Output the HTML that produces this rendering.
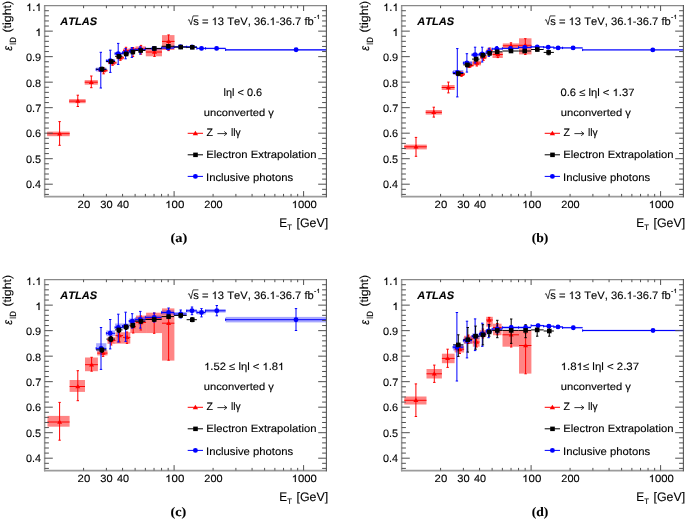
<!DOCTYPE html><html><head><meta charset="utf-8"><style>html,body{margin:0;padding:0;background:#fff;width:685px;height:519px;overflow:hidden}svg{display:block;will-change:transform}text{font-kerning:none;stroke:#000;stroke-width:0.12px}</style></head><body>
<svg width="685" height="519" viewBox="0 0 685 519" font-family='"Liberation Sans", sans-serif' font-size="11" fill="#000" text-rendering="geometricPrecision">
<rect width="685" height="519" fill="#fff"/>
<g transform="translate(0 0)">
<rect x="47.1" y="131.6" width="22.6" height="4.6" fill="#ff0000" fill-opacity="0.48"/>
<rect x="69.1" y="99.1" width="16.5" height="4.1" fill="#ff0000" fill-opacity="0.48"/>
<rect x="84.7" y="80.1" width="13.1" height="4.6" fill="#ff0000" fill-opacity="0.48"/>
<rect x="98.5" y="69.2" width="9" height="2.8" fill="#ff0000" fill-opacity="0.48"/>
<rect x="108" y="61.4" width="8.5" height="2.8" fill="#ff0000" fill-opacity="0.48"/>
<rect x="116.5" y="56.4" width="7.5" height="2.8" fill="#ff0000" fill-opacity="0.48"/>
<rect x="123" y="48.6" width="6.6" height="3.8" fill="#ff0000" fill-opacity="0.48"/>
<rect x="129.6" y="47.8" width="5.9" height="3.6" fill="#ff0000" fill-opacity="0.48"/>
<rect x="135.5" y="46.4" width="10.3" height="4.5" fill="#ff0000" fill-opacity="0.48"/>
<rect x="145.8" y="48.9" width="16.2" height="7.4" fill="#ff0000" fill-opacity="0.48"/>
<rect x="162" y="35.1" width="12.5" height="14.9" fill="#ff0000" fill-opacity="0.48"/>
<rect x="96.13" y="67.5" width="10.25" height="4" fill="#0000ff" fill-opacity="0.34"/>
<rect x="106.39" y="59" width="8.67" height="3.6" fill="#0000ff" fill-opacity="0.34"/>
<rect x="115.06" y="52" width="7.51" height="3.2" fill="#0000ff" fill-opacity="0.34"/>
<rect x="122.57" y="51.2" width="6.62" height="2.8" fill="#0000ff" fill-opacity="0.34"/>
<rect x="129.19" y="49.8" width="5.93" height="2.4" fill="#0000ff" fill-opacity="0.34"/>
<rect x="135.12" y="48.4" width="10.25" height="2.4" fill="#0000ff" fill-opacity="0.34"/>
<rect x="145.37" y="47.6" width="16.18" height="2" fill="#0000ff" fill-opacity="0.34"/>
<rect x="161.55" y="47" width="12.55" height="2" fill="#0000ff" fill-opacity="0.34"/>
<rect x="174.1" y="46" width="12.55" height="1.6" fill="#0000ff" fill-opacity="0.34"/>
<rect x="186.65" y="46.1" width="10.25" height="1.6" fill="#0000ff" fill-opacity="0.34"/>
<rect x="196.9" y="47.6" width="8.67" height="1.6" fill="#0000ff" fill-opacity="0.34"/>
<rect x="205.57" y="47.6" width="20.06" height="1.6" fill="#0000ff" fill-opacity="0.34"/>
<rect x="225.63" y="49" width="100.77" height="2" fill="#0000ff" fill-opacity="0.34"/>
<path d="M47.1 133.7H69.7M59.6 121.6V145.3M58.4 121.6h2.4M58.4 145.3h2.4M69.1 101.1H85.6M77.8 95.2V106.5M76.6 95.2h2.4M76.6 106.5h2.4M84.7 82.2H97.8M91.3 76V87.7M90.1 76h2.4M90.1 87.7h2.4M98.5 70.6H107.5M103.6 68V73.8M102.4 68h2.4M102.4 73.8h2.4M108 62.8H116.5M112.6 60.5V65.3M111.4 60.5h2.4M111.4 65.3h2.4M116.5 57.8H124M120.4 55.6V60.3M119.2 55.6h2.4M119.2 60.3h2.4M123 50.5H129.6M126 47.3V53M124.8 47.3h2.4M124.8 53h2.4M129.6 49.8H135.5M133 47.5V56.5M131.8 47.5h2.4M131.8 56.5h2.4M135.5 49H145.8M141 45.4V54.2M139.8 45.4h2.4M139.8 54.2h2.4M145.8 52H162M154.5 46.7V56.5M153.3 46.7h2.4M153.3 56.5h2.4M162 41.4H174.5M168.6 34.9V50.6M167.4 34.9h2.4M167.4 50.6h2.4" stroke="#ff0000" stroke-width="1" fill="none"/>
<path d="M59.6 131.2l2.5 4.2h-5z" fill="#ff0000"/>
<path d="M77.8 98.6l2.5 4.2h-5z" fill="#ff0000"/>
<path d="M91.3 79.7l2.5 4.2h-5z" fill="#ff0000"/>
<path d="M103.6 68.1l2.5 4.2h-5z" fill="#ff0000"/>
<path d="M112.6 60.3l2.5 4.2h-5z" fill="#ff0000"/>
<path d="M120.4 55.3l2.5 4.2h-5z" fill="#ff0000"/>
<path d="M126 48l2.5 4.2h-5z" fill="#ff0000"/>
<path d="M133 47.3l2.5 4.2h-5z" fill="#ff0000"/>
<path d="M141 46.5l2.5 4.2h-5z" fill="#ff0000"/>
<path d="M154.5 49.5l2.5 4.2h-5z" fill="#ff0000"/>
<path d="M168.6 38.9l2.5 4.2h-5z" fill="#ff0000"/>
<path d="M96.13 69.5H106.39M100.8 52.3V88M99.6 52.3h2.4M99.6 88h2.4M96.13 68.3v2.4M106.39 60.8H115.06M110.3 50.2V72.4M109.1 50.2h2.4M109.1 72.4h2.4M106.39 59.6v2.4M115.06 53.6H122.57M118.2 43.4V64.4M117 43.4h2.4M117 64.4h2.4M115.06 52.4v2.4M122.57 52.6H129.19M125.6 48.6V58.8M124.4 48.6h2.4M124.4 58.8h2.4M122.57 51.4v2.4M129.19 51H135.12M131.9 47.6V57.4M130.7 47.6h2.4M130.7 57.4h2.4M129.19 49.8v2.4M135.12 49.6H145.37M140.2 46.8V54M139 46.8h2.4M139 54h2.4M135.12 48.4v2.4M145.37 48.6H161.55M153.8 47V50.5M152.6 47h2.4M152.6 50.5h2.4M145.37 47.4v2.4M161.55 48H174.1M168 46.5V49.5M166.8 46.5h2.4M166.8 49.5h2.4M161.55 46.8v2.4M174.1 46.8H186.65M180.5 45.8V47.8M179.3 45.8h2.4M179.3 47.8h2.4M174.1 45.6v2.4M186.65 46.9H196.9M192 45.9V47.9M190.8 45.9h2.4M190.8 47.9h2.4M186.65 45.7v2.4M196.9 48.4H205.57M201.5 47.2V49.6M200.3 47.2h2.4M200.3 49.6h2.4M196.9 47.2v2.4M205.57 48.4H225.63M216.6 47.2V49.6M215.4 47.2h2.4M215.4 49.6h2.4M205.57 47.2v2.4M225.63 49.8H326.4M296.1 48.8V50.8M294.9 48.8h2.4M294.9 50.8h2.4M225.63 48.6v2.4" stroke="#0000ff" stroke-width="1" fill="none"/>
<path d="M96.13 69.2H106.39M101.9 67.2V71.2M100.7 67.2h2.4M100.7 71.2h2.4M106.39 61.5H115.06M111.2 59.5V63.5M110 59.5h2.4M110 63.5h2.4M115.06 56.3H122.57M118.9 54.3V58.3M117.7 54.3h2.4M117.7 58.3h2.4M122.57 53.9H129.19M126.2 52V55.8M125 52h2.4M125 55.8h2.4M129.19 52H135.12M132.8 50.2V53.8M131.6 50.2h2.4M131.6 53.8h2.4M135.12 50.5H145.37M140.7 48.8V52.2M139.5 48.8h2.4M139.5 52.2h2.4M145.37 48.5H161.55M154.4 47V50M153.2 47h2.4M153.2 50h2.4M161.55 46.3H174.1M168.4 44.8V47.8M167.2 44.8h2.4M167.2 47.8h2.4M174.1 47.1H186.65M180.7 45.8V48.4M179.5 45.8h2.4M179.5 48.4h2.4M186.65 47.3H196.9M192.3 46V48.6M191.1 46h2.4M191.1 48.6h2.4" stroke="#000000" stroke-width="1" fill="none"/>
<circle cx="100.8" cy="69.5" r="2.45" fill="#0000ff"/>
<circle cx="110.3" cy="60.8" r="2.45" fill="#0000ff"/>
<circle cx="118.2" cy="53.6" r="2.45" fill="#0000ff"/>
<circle cx="125.6" cy="52.6" r="2.45" fill="#0000ff"/>
<circle cx="131.9" cy="51" r="2.45" fill="#0000ff"/>
<circle cx="140.2" cy="49.6" r="2.45" fill="#0000ff"/>
<circle cx="153.8" cy="48.6" r="2.45" fill="#0000ff"/>
<circle cx="168" cy="48" r="2.45" fill="#0000ff"/>
<circle cx="180.5" cy="46.8" r="2.45" fill="#0000ff"/>
<circle cx="192" cy="46.9" r="2.45" fill="#0000ff"/>
<circle cx="201.5" cy="48.4" r="2.45" fill="#0000ff"/>
<circle cx="216.6" cy="48.4" r="2.45" fill="#0000ff"/>
<circle cx="296.1" cy="49.8" r="2.45" fill="#0000ff"/>
<rect x="99.6" y="66.9" width="4.6" height="4.6" fill="#000000"/>
<rect x="108.9" y="59.2" width="4.6" height="4.6" fill="#000000"/>
<rect x="116.6" y="54" width="4.6" height="4.6" fill="#000000"/>
<rect x="123.9" y="51.6" width="4.6" height="4.6" fill="#000000"/>
<rect x="130.5" y="49.7" width="4.6" height="4.6" fill="#000000"/>
<rect x="138.4" y="48.2" width="4.6" height="4.6" fill="#000000"/>
<rect x="152.1" y="46.2" width="4.6" height="4.6" fill="#000000"/>
<rect x="166.1" y="44" width="4.6" height="4.6" fill="#000000"/>
<rect x="178.4" y="44.8" width="4.6" height="4.6" fill="#000000"/>
<rect x="190" y="45" width="4.6" height="4.6" fill="#000000"/>
<path d="M44.65 5V197.3" stroke="#999" stroke-width="1.5" fill="none"/>
<path d="M44 5.6H326.9" stroke="#888" stroke-width="1.3" fill="none"/>
<path d="M44 196.55H326.9" stroke="#9c9c9c" stroke-width="1.7" fill="none"/>
<path d="M326.4 5V197.3" stroke="#555" stroke-width="1.1" fill="none"/>
<path d="M44.6 194.4h4.3M326.4 194.4h-4.3M44.6 189.3h4.3M326.4 189.3h-4.3M44.6 184.2h8.2M326.4 184.2h-8.2M44.6 179.1h4.3M326.4 179.1h-4.3M44.6 174h4.3M326.4 174h-4.3M44.6 168.89h4.3M326.4 168.89h-4.3M44.6 163.79h4.3M326.4 163.79h-4.3M44.6 158.69h8.2M326.4 158.69h-8.2M44.6 153.59h4.3M326.4 153.59h-4.3M44.6 148.49h4.3M326.4 148.49h-4.3M44.6 143.38h4.3M326.4 143.38h-4.3M44.6 138.28h4.3M326.4 138.28h-4.3M44.6 133.18h8.2M326.4 133.18h-8.2M44.6 128.08h4.3M326.4 128.08h-4.3M44.6 122.98h4.3M326.4 122.98h-4.3M44.6 117.87h4.3M326.4 117.87h-4.3M44.6 112.77h4.3M326.4 112.77h-4.3M44.6 107.67h8.2M326.4 107.67h-8.2M44.6 102.57h4.3M326.4 102.57h-4.3M44.6 97.47h4.3M326.4 97.47h-4.3M44.6 92.36h4.3M326.4 92.36h-4.3M44.6 87.26h4.3M326.4 87.26h-4.3M44.6 82.16h8.2M326.4 82.16h-8.2M44.6 77.06h4.3M326.4 77.06h-4.3M44.6 71.96h4.3M326.4 71.96h-4.3M44.6 66.85h4.3M326.4 66.85h-4.3M44.6 61.75h4.3M326.4 61.75h-4.3M44.6 56.65h8.2M326.4 56.65h-8.2M44.6 51.55h4.3M326.4 51.55h-4.3M44.6 46.45h4.3M326.4 46.45h-4.3M44.6 41.34h4.3M326.4 41.34h-4.3M44.6 36.24h4.3M326.4 36.24h-4.3M44.6 31.14h8.2M326.4 31.14h-8.2M44.6 26.04h4.3M326.4 26.04h-4.3M44.6 20.94h4.3M326.4 20.94h-4.3M44.6 15.83h4.3M326.4 15.83h-4.3M44.6 10.73h4.3M326.4 10.73h-4.3M83.58 196.5v-2.6M83.58 5.6v2.6M106.39 196.5v-2.6M106.39 5.6v2.6M122.57 196.5v-2.6M122.57 5.6v2.6M135.12 196.5v-2.6M135.12 5.6v2.6M145.37 196.5v-2.6M145.37 5.6v2.6M154.04 196.5v-2.6M154.04 5.6v2.6M161.55 196.5v-2.6M161.55 5.6v2.6M168.17 196.5v-2.6M168.17 5.6v2.6M174.1 196.5v-5.4M174.1 5.6v5.4M213.08 196.5v-2.6M213.08 5.6v2.6M235.89 196.5v-2.6M235.89 5.6v2.6M252.07 196.5v-2.6M252.07 5.6v2.6M264.62 196.5v-2.6M264.62 5.6v2.6M274.87 196.5v-2.6M274.87 5.6v2.6M283.54 196.5v-2.6M283.54 5.6v2.6M291.05 196.5v-2.6M291.05 5.6v2.6M297.67 196.5v-2.6M297.67 5.6v2.6M303.6 196.5v-5.4M303.6 5.6v5.4" stroke="#505050" stroke-width="1" fill="none"/>
<text x="26.03" y="188" font-size="10.8" textLength="14.99" lengthAdjust="spacingAndGlyphs">0.4</text>
<text x="26.02" y="163" font-size="10.8" textLength="15.13" lengthAdjust="spacingAndGlyphs">0.5</text>
<text x="26.02" y="137" font-size="10.8" textLength="15.15" lengthAdjust="spacingAndGlyphs">0.6</text>
<text x="26.02" y="112" font-size="10.8" textLength="15.23" lengthAdjust="spacingAndGlyphs">0.7</text>
<text x="26.02" y="87" font-size="10.8" textLength="15.15" lengthAdjust="spacingAndGlyphs">0.8</text>
<text x="26.02" y="61" font-size="10.8" textLength="15.19" lengthAdjust="spacingAndGlyphs">0.9</text>
<text x="35.2" y="36" font-size="10.8" textLength="6.66" lengthAdjust="spacingAndGlyphs"> </text><path transform="matrix(0.005843 0 0 -0.005273 35.2 36)" d="M745 0H560V1060C480 990 330 920 223 890V1050C390 1100 520 1230 585 1409H745Z" stroke="#000" stroke-width="0.12" vector-effect="non-scaling-stroke"/>
<text x="26.13" y="11" font-size="10.8" textLength="15.58" lengthAdjust="spacingAndGlyphs"> . </text><path transform="matrix(0.005471 0 0 -0.005273 26.13 11)" d="M745 0H560V1060C480 990 330 920 223 890V1050C390 1100 520 1230 585 1409H745Z" stroke="#000" stroke-width="0.12" vector-effect="non-scaling-stroke"/><path transform="matrix(0.005471 0 0 -0.005273 35.47 11)" d="M745 0H560V1060C480 990 330 920 223 890V1050C390 1100 520 1230 585 1409H745Z" stroke="#000" stroke-width="0.12" vector-effect="non-scaling-stroke"/>
<text x="77.58" y="208" font-size="10.5" textLength="12.61" lengthAdjust="spacingAndGlyphs">20</text>
<text x="100.23" y="208" font-size="10.5" textLength="12.36" lengthAdjust="spacingAndGlyphs">30</text>
<text x="117" y="208" font-size="10.5" textLength="12.07" lengthAdjust="spacingAndGlyphs">40</text>
<text x="165.2" y="208" font-size="10.5" textLength="19.2" lengthAdjust="spacingAndGlyphs"> 00</text><path transform="matrix(0.005620 0 0 -0.005127 165.2 208)" d="M745 0H560V1060C480 990 330 920 223 890V1050C390 1100 520 1230 585 1409H745Z" stroke="#000" stroke-width="0.12" vector-effect="non-scaling-stroke"/>
<text x="204.3" y="208" font-size="10.5" textLength="18.28" lengthAdjust="spacingAndGlyphs">200</text>
<text x="291.72" y="208" font-size="10.5" textLength="25.17" lengthAdjust="spacingAndGlyphs"> 000</text><path transform="matrix(0.005526 0 0 -0.005127 291.72 208)" d="M745 0H560V1060C480 990 330 920 223 890V1050C390 1100 520 1230 585 1409H745Z" stroke="#000" stroke-width="0.12" vector-effect="non-scaling-stroke"/>
<text x="279.23" y="227" font-size="12.5" textLength="7.88" lengthAdjust="spacingAndGlyphs">E</text>
<text x="287.28" y="230" font-size="8" textLength="4.75" lengthAdjust="spacingAndGlyphs">T</text>
<text x="296.47" y="227" font-size="12.3" textLength="31.67" lengthAdjust="spacingAndGlyphs">[GeV]</text>
<g transform="translate(11.05 51) rotate(-90)"><text x="0.28" y="0.5" font-size="12.5" textLength="4.88" lengthAdjust="spacingAndGlyphs" font-style="italic">ε</text><text x="6.12" y="4.7" font-size="9" textLength="7.91" lengthAdjust="spacingAndGlyphs">ID</text><text x="18.48" y="0" font-size="11.6" textLength="31.63" lengthAdjust="spacingAndGlyphs">(tight)</text></g>
<text x="60.23" y="25" font-size="11" textLength="36.79" lengthAdjust="spacingAndGlyphs" font-weight="bold" font-style="italic">ATLAS</text>
<path d="M187.9 20.3l1.2-.7 1.9 5.1 2.1-8.8h5.3" stroke="#000" stroke-width="0.75" fill="none"/>
<text x="193.24" y="25" font-size="10.9" textLength="120.58" lengthAdjust="spacingAndGlyphs">s =  3 TeV, 36. -36.7 fb</text><path transform="matrix(0.005474 0 0 -0.005322 211.62 25)" d="M745 0H560V1060C480 990 330 920 223 890V1050C390 1100 520 1230 585 1409H745Z" stroke="#000" stroke-width="0.12" vector-effect="non-scaling-stroke"/><path transform="matrix(0.005474 0 0 -0.005322 269.57 25)" d="M745 0H560V1060C480 990 330 920 223 890V1050C390 1100 520 1230 585 1409H745Z" stroke="#000" stroke-width="0.12" vector-effect="non-scaling-stroke"/>
<text x="313.94" y="19" font-size="6" textLength="6.27" lengthAdjust="spacingAndGlyphs">- </text><path transform="matrix(0.003443 0 0 -0.002930 316.28 19)" d="M745 0H560V1060C480 990 330 920 223 890V1050C390 1100 520 1230 585 1409H745Z" stroke="#000" stroke-width="0.12" vector-effect="non-scaling-stroke"/>
<text x="223.51" y="96" font-size="10.6" textLength="38.62" lengthAdjust="spacingAndGlyphs">lηl &lt; 0.6</text>
<text x="203.72" y="116" font-size="10.2" textLength="70.16" lengthAdjust="spacingAndGlyphs">unconverted γ</text>
<path d="M187.7 133.3H203" stroke="#ff0000" stroke-width="1"/>
<path d="M187.7 154.8H203" stroke="#000000" stroke-width="1"/>
<path d="M187.7 176.4H203" stroke="#0000ff" stroke-width="1"/>
<path d="M195.4 130.8l2.7 4.5h-5.4z" fill="#ff0000"/>
<rect x="193.2" y="152.6" width="4.6" height="4.5" fill="#000"/>
<circle cx="195.4" cy="176.4" r="2.45" fill="#0000ff"/>
<text x="206.41" y="136" font-size="10.8" textLength="6.47" lengthAdjust="spacingAndGlyphs">Z</text>
<path d="M217.4 133.6H226.8M224.2 131.5l2.7 2.1-2.7 2.1" stroke="#000" stroke-width="0.8" fill="none"/>
<text x="230.96" y="136" font-size="10.8" textLength="9.73" lengthAdjust="spacingAndGlyphs">llγ</text>
<text x="206.33" y="158" font-size="10.6" textLength="110.15" lengthAdjust="spacingAndGlyphs">Electron Extrapolation</text>
<text x="206.01" y="181" font-size="10.8" textLength="87.15" lengthAdjust="spacingAndGlyphs">Inclusive photons</text>
<text x="170.52" y="242" font-size="13" textLength="16.76" lengthAdjust="spacingAndGlyphs" font-weight="bold" font-family='"Liberation Serif", serif'>(a)</text>
</g>
<g transform="translate(357 0)">
<rect x="47.2" y="144.6" width="22.6" height="4.8" fill="#ff0000" fill-opacity="0.48"/>
<rect x="68.7" y="110" width="16.2" height="4.6" fill="#ff0000" fill-opacity="0.48"/>
<rect x="84.7" y="85" width="12.9" height="5" fill="#ff0000" fill-opacity="0.48"/>
<rect x="98.5" y="72.8" width="9.5" height="2.8" fill="#ff0000" fill-opacity="0.48"/>
<rect x="108" y="64.1" width="8.5" height="2.8" fill="#ff0000" fill-opacity="0.48"/>
<rect x="115.5" y="60.6" width="8.5" height="4.8" fill="#ff0000" fill-opacity="0.48"/>
<rect x="123" y="54.8" width="6.6" height="4.4" fill="#ff0000" fill-opacity="0.48"/>
<rect x="129.6" y="48.8" width="5.9" height="3.6" fill="#ff0000" fill-opacity="0.48"/>
<rect x="135.5" y="52.1" width="10.3" height="5.9" fill="#ff0000" fill-opacity="0.48"/>
<rect x="145.8" y="43.4" width="16.2" height="4.9" fill="#ff0000" fill-opacity="0.48"/>
<rect x="162" y="38.3" width="12.5" height="16.1" fill="#ff0000" fill-opacity="0.48"/>
<rect x="96.13" y="70" width="10.25" height="5" fill="#0000ff" fill-opacity="0.34"/>
<rect x="106.39" y="61" width="8.67" height="4" fill="#0000ff" fill-opacity="0.34"/>
<rect x="115.06" y="53" width="7.51" height="3.6" fill="#0000ff" fill-opacity="0.34"/>
<rect x="122.57" y="52.4" width="6.62" height="3.2" fill="#0000ff" fill-opacity="0.34"/>
<rect x="129.19" y="50.6" width="5.93" height="2.8" fill="#0000ff" fill-opacity="0.34"/>
<rect x="135.12" y="47.8" width="10.25" height="2.2" fill="#0000ff" fill-opacity="0.34"/>
<rect x="145.37" y="47.6" width="16.18" height="1.6" fill="#0000ff" fill-opacity="0.34"/>
<rect x="161.55" y="46.6" width="12.55" height="1.6" fill="#0000ff" fill-opacity="0.34"/>
<rect x="174.1" y="46.2" width="12.55" height="1.4" fill="#0000ff" fill-opacity="0.34"/>
<rect x="186.65" y="46.4" width="10.25" height="1.6" fill="#0000ff" fill-opacity="0.34"/>
<rect x="196.9" y="47.2" width="8.67" height="1.4" fill="#0000ff" fill-opacity="0.34"/>
<rect x="205.57" y="47.2" width="20.06" height="1.4" fill="#0000ff" fill-opacity="0.34"/>
<rect x="225.63" y="49.2" width="100.77" height="1.4" fill="#0000ff" fill-opacity="0.34"/>
<path d="M47.2 146.8H69.8M59 137.4V156.3M57.8 137.4h2.4M57.8 156.3h2.4M68.7 112.3H84.9M76.8 107.2V117.1M75.6 107.2h2.4M75.6 117.1h2.4M84.7 87.5H97.6M91.4 82.1V92.9M90.2 82.1h2.4M90.2 92.9h2.4M98.5 74.2H108M104.5 72V76.4M103.3 72h2.4M103.3 76.4h2.4M108 65.5H116.5M112.5 63.5V67.5M111.3 63.5h2.4M111.3 67.5h2.4M115.5 63H124M119.8 60V66M118.6 60h2.4M118.6 66h2.4M123 57H129.6M126.5 53.6V60.4M125.3 53.6h2.4M125.3 60.4h2.4M129.6 50.5H135.5M132.7 48V53.4M131.5 48h2.4M131.5 53.4h2.4M135.5 54.5H145.8M140.8 51.5V57.6M139.6 51.5h2.4M139.6 57.6h2.4M145.8 45.8H162M154 42.8V49.4M152.8 42.8h2.4M152.8 49.4h2.4M162 45.3H174.5M168.3 38.7V54.5M167.1 38.7h2.4M167.1 54.5h2.4" stroke="#ff0000" stroke-width="1" fill="none"/>
<path d="M59 144.3l2.5 4.2h-5z" fill="#ff0000"/>
<path d="M76.8 109.8l2.5 4.2h-5z" fill="#ff0000"/>
<path d="M91.4 85l2.5 4.2h-5z" fill="#ff0000"/>
<path d="M104.5 71.7l2.5 4.2h-5z" fill="#ff0000"/>
<path d="M112.5 63l2.5 4.2h-5z" fill="#ff0000"/>
<path d="M119.8 60.5l2.5 4.2h-5z" fill="#ff0000"/>
<path d="M126.5 54.5l2.5 4.2h-5z" fill="#ff0000"/>
<path d="M132.7 48l2.5 4.2h-5z" fill="#ff0000"/>
<path d="M140.8 52l2.5 4.2h-5z" fill="#ff0000"/>
<path d="M154 43.3l2.5 4.2h-5z" fill="#ff0000"/>
<path d="M168.3 42.8l2.5 4.2h-5z" fill="#ff0000"/>
<path d="M96.13 72.5H106.39M100.3 48.6V96.9M99.1 48.6h2.4M99.1 96.9h2.4M96.13 71.3v2.4M106.39 63H115.06M109.9 53.7V72.1M108.7 53.7h2.4M108.7 72.1h2.4M106.39 61.8v2.4M115.06 54.8H122.57M118.1 47.2V63M116.9 47.2h2.4M116.9 63h2.4M115.06 53.6v2.4M122.57 54H129.19M125.2 47.2V62M124 47.2h2.4M124 62h2.4M122.57 52.8v2.4M129.19 52H135.12M131.9 48.3V56.4M130.7 48.3h2.4M130.7 56.4h2.4M129.19 50.8v2.4M135.12 48.9H145.37M139.8 46.6V51.5M138.6 46.6h2.4M138.6 51.5h2.4M135.12 47.7v2.4M145.37 48.4H161.55M153.4 47V49.8M152.2 47h2.4M152.2 49.8h2.4M145.37 47.2v2.4M161.55 47.4H174.1M167.7 46V48.8M166.5 46h2.4M166.5 48.8h2.4M161.55 46.2v2.4M174.1 46.9H186.65M180.2 45.8V48M179 45.8h2.4M179 48h2.4M174.1 45.7v2.4M186.65 47.2H196.9M191.2 46V48.4M190 46h2.4M190 48.4h2.4M186.65 46v2.4M196.9 47.9H205.57M201.1 46.8V49M199.9 46.8h2.4M199.9 49h2.4M196.9 46.7v2.4M205.57 47.9H225.63M216.1 46.8V49M214.9 46.8h2.4M214.9 49h2.4M205.57 46.7v2.4M225.63 49.9H326.4M295.8 49V50.8M294.6 49h2.4M294.6 50.8h2.4M225.63 48.7v2.4" stroke="#0000ff" stroke-width="1" fill="none"/>
<path d="M96.13 73.5H106.39M101.3 71.3V75.7M100.1 71.3h2.4M100.1 75.7h2.4M106.39 64.9H115.06M110.4 62.9V66.9M109.2 62.9h2.4M109.2 66.9h2.4M115.06 59.1H122.57M119.1 57.1V61.1M117.9 57.1h2.4M117.9 61.1h2.4M122.57 55.2H129.19M125.8 53.4V57M124.6 53.4h2.4M124.6 57h2.4M129.19 53.3H135.12M132.6 51.5V55.1M131.4 51.5h2.4M131.4 55.1h2.4M135.12 51.8H145.37M140.2 50V53.6M139 50h2.4M139 53.6h2.4M145.37 51H161.55M154 49.5V52.5M152.8 49.5h2.4M152.8 52.5h2.4M161.55 51H174.1M167.7 49.5V52.5M166.5 49.5h2.4M166.5 52.5h2.4M174.1 49.5H186.65M180.3 48V51M179.1 48h2.4M179.1 51h2.4M186.65 52.4H196.9M191.6 50.4V54.8M190.4 50.4h2.4M190.4 54.8h2.4" stroke="#000000" stroke-width="1" fill="none"/>
<circle cx="100.3" cy="72.5" r="2.45" fill="#0000ff"/>
<circle cx="109.9" cy="63" r="2.45" fill="#0000ff"/>
<circle cx="118.1" cy="54.8" r="2.45" fill="#0000ff"/>
<circle cx="125.2" cy="54" r="2.45" fill="#0000ff"/>
<circle cx="131.9" cy="52" r="2.45" fill="#0000ff"/>
<circle cx="139.8" cy="48.9" r="2.45" fill="#0000ff"/>
<circle cx="153.4" cy="48.4" r="2.45" fill="#0000ff"/>
<circle cx="167.7" cy="47.4" r="2.45" fill="#0000ff"/>
<circle cx="180.2" cy="46.9" r="2.45" fill="#0000ff"/>
<circle cx="191.2" cy="47.2" r="2.45" fill="#0000ff"/>
<circle cx="201.1" cy="47.9" r="2.45" fill="#0000ff"/>
<circle cx="216.1" cy="47.9" r="2.45" fill="#0000ff"/>
<circle cx="295.8" cy="49.9" r="2.45" fill="#0000ff"/>
<rect x="99" y="71.2" width="4.6" height="4.6" fill="#000000"/>
<rect x="108.1" y="62.6" width="4.6" height="4.6" fill="#000000"/>
<rect x="116.8" y="56.8" width="4.6" height="4.6" fill="#000000"/>
<rect x="123.5" y="52.9" width="4.6" height="4.6" fill="#000000"/>
<rect x="130.3" y="51" width="4.6" height="4.6" fill="#000000"/>
<rect x="137.9" y="49.5" width="4.6" height="4.6" fill="#000000"/>
<rect x="151.7" y="48.7" width="4.6" height="4.6" fill="#000000"/>
<rect x="165.4" y="48.7" width="4.6" height="4.6" fill="#000000"/>
<rect x="178" y="47.2" width="4.6" height="4.6" fill="#000000"/>
<rect x="189.3" y="50.1" width="4.6" height="4.6" fill="#000000"/>
<path d="M44.65 5V197.3" stroke="#999" stroke-width="1.5" fill="none"/>
<path d="M44 5.6H326.9" stroke="#888" stroke-width="1.3" fill="none"/>
<path d="M44 196.55H326.9" stroke="#9c9c9c" stroke-width="1.7" fill="none"/>
<path d="M326.4 5V197.3" stroke="#555" stroke-width="1.1" fill="none"/>
<path d="M44.6 194.4h4.3M326.4 194.4h-4.3M44.6 189.3h4.3M326.4 189.3h-4.3M44.6 184.2h8.2M326.4 184.2h-8.2M44.6 179.1h4.3M326.4 179.1h-4.3M44.6 174h4.3M326.4 174h-4.3M44.6 168.89h4.3M326.4 168.89h-4.3M44.6 163.79h4.3M326.4 163.79h-4.3M44.6 158.69h8.2M326.4 158.69h-8.2M44.6 153.59h4.3M326.4 153.59h-4.3M44.6 148.49h4.3M326.4 148.49h-4.3M44.6 143.38h4.3M326.4 143.38h-4.3M44.6 138.28h4.3M326.4 138.28h-4.3M44.6 133.18h8.2M326.4 133.18h-8.2M44.6 128.08h4.3M326.4 128.08h-4.3M44.6 122.98h4.3M326.4 122.98h-4.3M44.6 117.87h4.3M326.4 117.87h-4.3M44.6 112.77h4.3M326.4 112.77h-4.3M44.6 107.67h8.2M326.4 107.67h-8.2M44.6 102.57h4.3M326.4 102.57h-4.3M44.6 97.47h4.3M326.4 97.47h-4.3M44.6 92.36h4.3M326.4 92.36h-4.3M44.6 87.26h4.3M326.4 87.26h-4.3M44.6 82.16h8.2M326.4 82.16h-8.2M44.6 77.06h4.3M326.4 77.06h-4.3M44.6 71.96h4.3M326.4 71.96h-4.3M44.6 66.85h4.3M326.4 66.85h-4.3M44.6 61.75h4.3M326.4 61.75h-4.3M44.6 56.65h8.2M326.4 56.65h-8.2M44.6 51.55h4.3M326.4 51.55h-4.3M44.6 46.45h4.3M326.4 46.45h-4.3M44.6 41.34h4.3M326.4 41.34h-4.3M44.6 36.24h4.3M326.4 36.24h-4.3M44.6 31.14h8.2M326.4 31.14h-8.2M44.6 26.04h4.3M326.4 26.04h-4.3M44.6 20.94h4.3M326.4 20.94h-4.3M44.6 15.83h4.3M326.4 15.83h-4.3M44.6 10.73h4.3M326.4 10.73h-4.3M83.58 196.5v-2.6M83.58 5.6v2.6M106.39 196.5v-2.6M106.39 5.6v2.6M122.57 196.5v-2.6M122.57 5.6v2.6M135.12 196.5v-2.6M135.12 5.6v2.6M145.37 196.5v-2.6M145.37 5.6v2.6M154.04 196.5v-2.6M154.04 5.6v2.6M161.55 196.5v-2.6M161.55 5.6v2.6M168.17 196.5v-2.6M168.17 5.6v2.6M174.1 196.5v-5.4M174.1 5.6v5.4M213.08 196.5v-2.6M213.08 5.6v2.6M235.89 196.5v-2.6M235.89 5.6v2.6M252.07 196.5v-2.6M252.07 5.6v2.6M264.62 196.5v-2.6M264.62 5.6v2.6M274.87 196.5v-2.6M274.87 5.6v2.6M283.54 196.5v-2.6M283.54 5.6v2.6M291.05 196.5v-2.6M291.05 5.6v2.6M297.67 196.5v-2.6M297.67 5.6v2.6M303.6 196.5v-5.4M303.6 5.6v5.4" stroke="#505050" stroke-width="1" fill="none"/>
<text x="26.03" y="188" font-size="10.8" textLength="14.99" lengthAdjust="spacingAndGlyphs">0.4</text>
<text x="26.02" y="163" font-size="10.8" textLength="15.13" lengthAdjust="spacingAndGlyphs">0.5</text>
<text x="26.02" y="137" font-size="10.8" textLength="15.15" lengthAdjust="spacingAndGlyphs">0.6</text>
<text x="26.02" y="112" font-size="10.8" textLength="15.23" lengthAdjust="spacingAndGlyphs">0.7</text>
<text x="26.02" y="87" font-size="10.8" textLength="15.15" lengthAdjust="spacingAndGlyphs">0.8</text>
<text x="26.02" y="61" font-size="10.8" textLength="15.19" lengthAdjust="spacingAndGlyphs">0.9</text>
<text x="35.2" y="36" font-size="10.8" textLength="6.66" lengthAdjust="spacingAndGlyphs"> </text><path transform="matrix(0.005843 0 0 -0.005273 35.2 36)" d="M745 0H560V1060C480 990 330 920 223 890V1050C390 1100 520 1230 585 1409H745Z" stroke="#000" stroke-width="0.12" vector-effect="non-scaling-stroke"/>
<text x="26.13" y="11" font-size="10.8" textLength="15.58" lengthAdjust="spacingAndGlyphs"> . </text><path transform="matrix(0.005471 0 0 -0.005273 26.13 11)" d="M745 0H560V1060C480 990 330 920 223 890V1050C390 1100 520 1230 585 1409H745Z" stroke="#000" stroke-width="0.12" vector-effect="non-scaling-stroke"/><path transform="matrix(0.005471 0 0 -0.005273 35.47 11)" d="M745 0H560V1060C480 990 330 920 223 890V1050C390 1100 520 1230 585 1409H745Z" stroke="#000" stroke-width="0.12" vector-effect="non-scaling-stroke"/>
<text x="77.58" y="208" font-size="10.5" textLength="12.61" lengthAdjust="spacingAndGlyphs">20</text>
<text x="100.23" y="208" font-size="10.5" textLength="12.36" lengthAdjust="spacingAndGlyphs">30</text>
<text x="117" y="208" font-size="10.5" textLength="12.07" lengthAdjust="spacingAndGlyphs">40</text>
<text x="165.2" y="208" font-size="10.5" textLength="19.2" lengthAdjust="spacingAndGlyphs"> 00</text><path transform="matrix(0.005620 0 0 -0.005127 165.2 208)" d="M745 0H560V1060C480 990 330 920 223 890V1050C390 1100 520 1230 585 1409H745Z" stroke="#000" stroke-width="0.12" vector-effect="non-scaling-stroke"/>
<text x="204.3" y="208" font-size="10.5" textLength="18.28" lengthAdjust="spacingAndGlyphs">200</text>
<text x="291.72" y="208" font-size="10.5" textLength="25.17" lengthAdjust="spacingAndGlyphs"> 000</text><path transform="matrix(0.005526 0 0 -0.005127 291.72 208)" d="M745 0H560V1060C480 990 330 920 223 890V1050C390 1100 520 1230 585 1409H745Z" stroke="#000" stroke-width="0.12" vector-effect="non-scaling-stroke"/>
<text x="279.23" y="227" font-size="12.5" textLength="7.88" lengthAdjust="spacingAndGlyphs">E</text>
<text x="287.28" y="230" font-size="8" textLength="4.75" lengthAdjust="spacingAndGlyphs">T</text>
<text x="296.47" y="227" font-size="12.3" textLength="31.67" lengthAdjust="spacingAndGlyphs">[GeV]</text>
<g transform="translate(11.05 51) rotate(-90)"><text x="0.28" y="0.5" font-size="12.5" textLength="4.88" lengthAdjust="spacingAndGlyphs" font-style="italic">ε</text><text x="6.12" y="4.7" font-size="9" textLength="7.91" lengthAdjust="spacingAndGlyphs">ID</text><text x="18.48" y="0" font-size="11.6" textLength="31.63" lengthAdjust="spacingAndGlyphs">(tight)</text></g>
<text x="60.23" y="25" font-size="11" textLength="36.79" lengthAdjust="spacingAndGlyphs" font-weight="bold" font-style="italic">ATLAS</text>
<path d="M187.9 20.3l1.2-.7 1.9 5.1 2.1-8.8h5.3" stroke="#000" stroke-width="0.75" fill="none"/>
<text x="193.24" y="25" font-size="10.9" textLength="120.58" lengthAdjust="spacingAndGlyphs">s =  3 TeV, 36. -36.7 fb</text><path transform="matrix(0.005474 0 0 -0.005322 211.62 25)" d="M745 0H560V1060C480 990 330 920 223 890V1050C390 1100 520 1230 585 1409H745Z" stroke="#000" stroke-width="0.12" vector-effect="non-scaling-stroke"/><path transform="matrix(0.005474 0 0 -0.005322 269.57 25)" d="M745 0H560V1060C480 990 330 920 223 890V1050C390 1100 520 1230 585 1409H745Z" stroke="#000" stroke-width="0.12" vector-effect="non-scaling-stroke"/>
<text x="313.94" y="19" font-size="6" textLength="6.27" lengthAdjust="spacingAndGlyphs">- </text><path transform="matrix(0.003443 0 0 -0.002930 316.28 19)" d="M745 0H560V1060C480 990 330 920 223 890V1050C390 1100 520 1230 585 1409H745Z" stroke="#000" stroke-width="0.12" vector-effect="non-scaling-stroke"/>
<text x="203.51" y="96" font-size="10.6" textLength="73.9" lengthAdjust="spacingAndGlyphs">0.6 ≤ lηl &lt;  .37</text><path transform="matrix(0.005483 0 0 -0.005176 255.56 96)" d="M745 0H560V1060C480 990 330 920 223 890V1050C390 1100 520 1230 585 1409H745Z" stroke="#000" stroke-width="0.12" vector-effect="non-scaling-stroke"/>
<text x="203.72" y="116" font-size="10.2" textLength="70.16" lengthAdjust="spacingAndGlyphs">unconverted γ</text>
<path d="M187.7 133.3H203" stroke="#ff0000" stroke-width="1"/>
<path d="M187.7 154.8H203" stroke="#000000" stroke-width="1"/>
<path d="M187.7 176.4H203" stroke="#0000ff" stroke-width="1"/>
<path d="M195.4 130.8l2.7 4.5h-5.4z" fill="#ff0000"/>
<rect x="193.2" y="152.6" width="4.6" height="4.5" fill="#000"/>
<circle cx="195.4" cy="176.4" r="2.45" fill="#0000ff"/>
<text x="206.41" y="136" font-size="10.8" textLength="6.47" lengthAdjust="spacingAndGlyphs">Z</text>
<path d="M217.4 133.6H226.8M224.2 131.5l2.7 2.1-2.7 2.1" stroke="#000" stroke-width="0.8" fill="none"/>
<text x="230.96" y="136" font-size="10.8" textLength="9.73" lengthAdjust="spacingAndGlyphs">llγ</text>
<text x="206.33" y="158" font-size="10.6" textLength="110.15" lengthAdjust="spacingAndGlyphs">Electron Extrapolation</text>
<text x="206.01" y="181" font-size="10.8" textLength="87.15" lengthAdjust="spacingAndGlyphs">Inclusive photons</text>
<text x="174.65" y="242" font-size="13" textLength="16.59" lengthAdjust="spacingAndGlyphs" font-weight="bold" font-family='"Liberation Serif", serif'>(b)</text>
</g>
<g transform="translate(0 274)">
<rect x="47.5" y="141.9" width="22.1" height="10.8" fill="#ff0000" fill-opacity="0.48"/>
<rect x="69.6" y="106" width="15.4" height="11.9" fill="#ff0000" fill-opacity="0.48"/>
<rect x="85" y="83.5" width="12.9" height="13.7" fill="#ff0000" fill-opacity="0.48"/>
<rect x="97.2" y="76.4" width="10.3" height="5" fill="#ff0000" fill-opacity="0.48"/>
<rect x="107.5" y="63.1" width="8" height="6.8" fill="#ff0000" fill-opacity="0.48"/>
<rect x="115.5" y="58.3" width="7.5" height="11.3" fill="#ff0000" fill-opacity="0.48"/>
<rect x="123" y="58.3" width="7.3" height="11.3" fill="#ff0000" fill-opacity="0.48"/>
<rect x="130.3" y="46.1" width="5.7" height="13" fill="#ff0000" fill-opacity="0.48"/>
<rect x="136" y="41.6" width="10.1" height="17.5" fill="#ff0000" fill-opacity="0.48"/>
<rect x="146.1" y="38.7" width="15.9" height="20.4" fill="#ff0000" fill-opacity="0.48"/>
<rect x="162" y="34.4" width="12.4" height="52.2" fill="#ff0000" fill-opacity="0.48"/>
<rect x="96.13" y="69.2" width="10.25" height="8" fill="#0000ff" fill-opacity="0.34"/>
<rect x="106.39" y="56.4" width="8.67" height="5.8" fill="#0000ff" fill-opacity="0.34"/>
<rect x="115.06" y="49.5" width="7.51" height="5.2" fill="#0000ff" fill-opacity="0.34"/>
<rect x="122.57" y="49.5" width="6.62" height="5.5" fill="#0000ff" fill-opacity="0.34"/>
<rect x="129.19" y="44.5" width="5.93" height="5.5" fill="#0000ff" fill-opacity="0.34"/>
<rect x="135.12" y="43" width="10.25" height="5" fill="#0000ff" fill-opacity="0.34"/>
<rect x="145.37" y="41.5" width="16.18" height="4" fill="#0000ff" fill-opacity="0.34"/>
<rect x="161.55" y="36.5" width="12.55" height="4" fill="#0000ff" fill-opacity="0.34"/>
<rect x="174.1" y="38" width="12.55" height="4" fill="#0000ff" fill-opacity="0.34"/>
<rect x="186.65" y="35.2" width="10.25" height="3.3" fill="#0000ff" fill-opacity="0.34"/>
<rect x="196.9" y="36.6" width="8.67" height="3.8" fill="#0000ff" fill-opacity="0.34"/>
<rect x="205.57" y="35" width="20.06" height="3.6" fill="#0000ff" fill-opacity="0.34"/>
<rect x="225.63" y="42.9" width="100.77" height="5.5" fill="#0000ff" fill-opacity="0.34"/>
<path d="M47.5 148H69.6M59.6 128.4V166.2M58.4 128.4h2.4M58.4 166.2h2.4M69.6 112.5H85M77.8 96.7V126.7M76.6 96.7h2.4M76.6 126.7h2.4M85 90.7H97.9M91.6 83.3V97.2M90.4 83.3h2.4M90.4 97.2h2.4M97.2 79.1H107.5M103.1 76V82.4M101.9 76h2.4M101.9 82.4h2.4M107.5 66.5H115.5M111.2 62V71M110 62h2.4M110 71h2.4M115.5 61.6H123M119.5 57V68M118.3 57h2.4M118.3 68h2.4M123 63.4H130.3M127 58V69.4M125.8 58h2.4M125.8 69.4h2.4M130.3 52.5H136M133.2 46V59M132 46h2.4M132 59h2.4M136 48.5H146.1M140.8 42V56M139.6 42h2.4M139.6 56h2.4M146.1 44.9H162M154.2 39.1V59.3M153 39.1h2.4M153 59.3h2.4M162 49.2H174.4M168.6 40.5V86.2M167.4 40.5h2.4M167.4 86.2h2.4" stroke="#ff0000" stroke-width="1" fill="none"/>
<path d="M59.6 145.5l2.5 4.2h-5z" fill="#ff0000"/>
<path d="M77.8 110l2.5 4.2h-5z" fill="#ff0000"/>
<path d="M91.6 88.2l2.5 4.2h-5z" fill="#ff0000"/>
<path d="M103.1 76.6l2.5 4.2h-5z" fill="#ff0000"/>
<path d="M111.2 64l2.5 4.2h-5z" fill="#ff0000"/>
<path d="M119.5 59.1l2.5 4.2h-5z" fill="#ff0000"/>
<path d="M127 60.9l2.5 4.2h-5z" fill="#ff0000"/>
<path d="M133.2 50l2.5 4.2h-5z" fill="#ff0000"/>
<path d="M140.8 46l2.5 4.2h-5z" fill="#ff0000"/>
<path d="M154.2 42.4l2.5 4.2h-5z" fill="#ff0000"/>
<path d="M168.6 46.7l2.5 4.2h-5z" fill="#ff0000"/>
<path d="M96.13 74.4H106.39M101 53.5V95.4M99.8 53.5h2.4M99.8 95.4h2.4M96.13 73.2v2.4M106.39 59.3H115.06M110.2 45.5V74.9M109 45.5h2.4M109 74.9h2.4M106.39 58.1v2.4M115.06 53.5H122.57M118.3 40.2V68M117.1 40.2h2.4M117.1 68h2.4M115.06 52.3v2.4M122.57 52.2H129.19M125.6 38.2V67.4M124.4 38.2h2.4M124.4 67.4h2.4M122.57 51v2.4M129.19 47.2H135.12M132.2 39.7V54.1M131 39.7h2.4M131 54.1h2.4M129.19 46v2.4M135.12 45.5H145.37M140.3 37.4V54.1M139.1 37.4h2.4M139.1 54.1h2.4M135.12 44.3v2.4M145.37 43.4H161.55M154.2 39V48M153 39h2.4M153 48h2.4M145.37 42.2v2.4M161.55 38.5H174.1M168.6 34V43M167.4 34h2.4M167.4 43h2.4M161.55 37.3v2.4M174.1 40H186.65M180.7 36V44M179.5 36h2.4M179.5 44h2.4M174.1 38.8v2.4M186.65 36.8H196.9M192 33V40.7M190.8 33h2.4M190.8 40.7h2.4M186.65 35.6v2.4M196.9 38.5H205.57M201.5 34.6V42.9M200.3 34.6h2.4M200.3 42.9h2.4M196.9 37.3v2.4M205.57 36.8H225.63M216.8 31.5V41.8M215.6 31.5h2.4M215.6 41.8h2.4M205.57 35.6v2.4M225.63 45.7H326.4M296 34.6V56.5M294.8 34.6h2.4M294.8 56.5h2.4M225.63 44.5v2.4" stroke="#0000ff" stroke-width="1" fill="none"/>
<path d="M96.13 75.8H106.39M101.8 73.3V78.3M100.6 73.3h2.4M100.6 78.3h2.4M106.39 65.1H115.06M110.8 62.6V67.6M109.6 62.6h2.4M109.6 67.6h2.4M115.06 55.9H122.57M118.9 53.4V58.4M117.7 53.4h2.4M117.7 58.4h2.4M122.57 53H129.19M126.1 50.5V55.5M124.9 50.5h2.4M124.9 55.5h2.4M129.19 51.2H135.12M132.8 49V53.4M131.6 49h2.4M131.6 53.4h2.4M135.12 47.2H145.37M140.9 45V49.4M139.7 45h2.4M139.7 49.4h2.4M145.37 45.5H161.55M154.2 43.5V47.5M153 43.5h2.4M153 47.5h2.4M161.55 42.6H174.1M168.6 40.6V44.6M167.4 40.6h2.4M167.4 44.6h2.4M174.1 41.4H186.65M180.7 39.4V43.4M179.5 39.4h2.4M179.5 43.4h2.4M186.65 45.7H196.9M192.3 43.7V47.7M191.1 43.7h2.4M191.1 47.7h2.4" stroke="#000000" stroke-width="1" fill="none"/>
<circle cx="101" cy="74.4" r="2.45" fill="#0000ff"/>
<circle cx="110.2" cy="59.3" r="2.45" fill="#0000ff"/>
<circle cx="118.3" cy="53.5" r="2.45" fill="#0000ff"/>
<circle cx="125.6" cy="52.2" r="2.45" fill="#0000ff"/>
<circle cx="132.2" cy="47.2" r="2.45" fill="#0000ff"/>
<circle cx="140.3" cy="45.5" r="2.45" fill="#0000ff"/>
<circle cx="154.2" cy="43.4" r="2.45" fill="#0000ff"/>
<circle cx="168.6" cy="38.5" r="2.45" fill="#0000ff"/>
<circle cx="180.7" cy="40" r="2.45" fill="#0000ff"/>
<circle cx="192" cy="36.8" r="2.45" fill="#0000ff"/>
<circle cx="201.5" cy="38.5" r="2.45" fill="#0000ff"/>
<circle cx="216.8" cy="36.8" r="2.45" fill="#0000ff"/>
<circle cx="296" cy="45.7" r="2.45" fill="#0000ff"/>
<rect x="99.5" y="73.5" width="4.6" height="4.6" fill="#000000"/>
<rect x="108.5" y="62.8" width="4.6" height="4.6" fill="#000000"/>
<rect x="116.6" y="53.6" width="4.6" height="4.6" fill="#000000"/>
<rect x="123.8" y="50.7" width="4.6" height="4.6" fill="#000000"/>
<rect x="130.5" y="48.9" width="4.6" height="4.6" fill="#000000"/>
<rect x="138.6" y="44.9" width="4.6" height="4.6" fill="#000000"/>
<rect x="151.9" y="43.2" width="4.6" height="4.6" fill="#000000"/>
<rect x="166.3" y="40.3" width="4.6" height="4.6" fill="#000000"/>
<rect x="178.4" y="39.1" width="4.6" height="4.6" fill="#000000"/>
<rect x="190" y="43.4" width="4.6" height="4.6" fill="#000000"/>
<path d="M44.65 5V197.3" stroke="#999" stroke-width="1.5" fill="none"/>
<path d="M44 5.6H326.9" stroke="#888" stroke-width="1.3" fill="none"/>
<path d="M44 196.55H326.9" stroke="#9c9c9c" stroke-width="1.7" fill="none"/>
<path d="M326.4 5V197.3" stroke="#555" stroke-width="1.1" fill="none"/>
<path d="M44.6 194.4h4.3M326.4 194.4h-4.3M44.6 189.3h4.3M326.4 189.3h-4.3M44.6 184.2h8.2M326.4 184.2h-8.2M44.6 179.1h4.3M326.4 179.1h-4.3M44.6 174h4.3M326.4 174h-4.3M44.6 168.89h4.3M326.4 168.89h-4.3M44.6 163.79h4.3M326.4 163.79h-4.3M44.6 158.69h8.2M326.4 158.69h-8.2M44.6 153.59h4.3M326.4 153.59h-4.3M44.6 148.49h4.3M326.4 148.49h-4.3M44.6 143.38h4.3M326.4 143.38h-4.3M44.6 138.28h4.3M326.4 138.28h-4.3M44.6 133.18h8.2M326.4 133.18h-8.2M44.6 128.08h4.3M326.4 128.08h-4.3M44.6 122.98h4.3M326.4 122.98h-4.3M44.6 117.87h4.3M326.4 117.87h-4.3M44.6 112.77h4.3M326.4 112.77h-4.3M44.6 107.67h8.2M326.4 107.67h-8.2M44.6 102.57h4.3M326.4 102.57h-4.3M44.6 97.47h4.3M326.4 97.47h-4.3M44.6 92.36h4.3M326.4 92.36h-4.3M44.6 87.26h4.3M326.4 87.26h-4.3M44.6 82.16h8.2M326.4 82.16h-8.2M44.6 77.06h4.3M326.4 77.06h-4.3M44.6 71.96h4.3M326.4 71.96h-4.3M44.6 66.85h4.3M326.4 66.85h-4.3M44.6 61.75h4.3M326.4 61.75h-4.3M44.6 56.65h8.2M326.4 56.65h-8.2M44.6 51.55h4.3M326.4 51.55h-4.3M44.6 46.45h4.3M326.4 46.45h-4.3M44.6 41.34h4.3M326.4 41.34h-4.3M44.6 36.24h4.3M326.4 36.24h-4.3M44.6 31.14h8.2M326.4 31.14h-8.2M44.6 26.04h4.3M326.4 26.04h-4.3M44.6 20.94h4.3M326.4 20.94h-4.3M44.6 15.83h4.3M326.4 15.83h-4.3M44.6 10.73h4.3M326.4 10.73h-4.3M83.58 196.5v-2.6M83.58 5.6v2.6M106.39 196.5v-2.6M106.39 5.6v2.6M122.57 196.5v-2.6M122.57 5.6v2.6M135.12 196.5v-2.6M135.12 5.6v2.6M145.37 196.5v-2.6M145.37 5.6v2.6M154.04 196.5v-2.6M154.04 5.6v2.6M161.55 196.5v-2.6M161.55 5.6v2.6M168.17 196.5v-2.6M168.17 5.6v2.6M174.1 196.5v-5.4M174.1 5.6v5.4M213.08 196.5v-2.6M213.08 5.6v2.6M235.89 196.5v-2.6M235.89 5.6v2.6M252.07 196.5v-2.6M252.07 5.6v2.6M264.62 196.5v-2.6M264.62 5.6v2.6M274.87 196.5v-2.6M274.87 5.6v2.6M283.54 196.5v-2.6M283.54 5.6v2.6M291.05 196.5v-2.6M291.05 5.6v2.6M297.67 196.5v-2.6M297.67 5.6v2.6M303.6 196.5v-5.4M303.6 5.6v5.4" stroke="#505050" stroke-width="1" fill="none"/>
<text x="26.03" y="188" font-size="10.8" textLength="14.99" lengthAdjust="spacingAndGlyphs">0.4</text>
<text x="26.02" y="163" font-size="10.8" textLength="15.13" lengthAdjust="spacingAndGlyphs">0.5</text>
<text x="26.02" y="137" font-size="10.8" textLength="15.15" lengthAdjust="spacingAndGlyphs">0.6</text>
<text x="26.02" y="112" font-size="10.8" textLength="15.23" lengthAdjust="spacingAndGlyphs">0.7</text>
<text x="26.02" y="87" font-size="10.8" textLength="15.15" lengthAdjust="spacingAndGlyphs">0.8</text>
<text x="26.02" y="61" font-size="10.8" textLength="15.19" lengthAdjust="spacingAndGlyphs">0.9</text>
<text x="35.2" y="36" font-size="10.8" textLength="6.66" lengthAdjust="spacingAndGlyphs"> </text><path transform="matrix(0.005843 0 0 -0.005273 35.2 36)" d="M745 0H560V1060C480 990 330 920 223 890V1050C390 1100 520 1230 585 1409H745Z" stroke="#000" stroke-width="0.12" vector-effect="non-scaling-stroke"/>
<text x="26.13" y="11" font-size="10.8" textLength="15.58" lengthAdjust="spacingAndGlyphs"> . </text><path transform="matrix(0.005471 0 0 -0.005273 26.13 11)" d="M745 0H560V1060C480 990 330 920 223 890V1050C390 1100 520 1230 585 1409H745Z" stroke="#000" stroke-width="0.12" vector-effect="non-scaling-stroke"/><path transform="matrix(0.005471 0 0 -0.005273 35.47 11)" d="M745 0H560V1060C480 990 330 920 223 890V1050C390 1100 520 1230 585 1409H745Z" stroke="#000" stroke-width="0.12" vector-effect="non-scaling-stroke"/>
<text x="77.58" y="208" font-size="10.5" textLength="12.61" lengthAdjust="spacingAndGlyphs">20</text>
<text x="100.23" y="208" font-size="10.5" textLength="12.36" lengthAdjust="spacingAndGlyphs">30</text>
<text x="117" y="208" font-size="10.5" textLength="12.07" lengthAdjust="spacingAndGlyphs">40</text>
<text x="165.2" y="208" font-size="10.5" textLength="19.2" lengthAdjust="spacingAndGlyphs"> 00</text><path transform="matrix(0.005620 0 0 -0.005127 165.2 208)" d="M745 0H560V1060C480 990 330 920 223 890V1050C390 1100 520 1230 585 1409H745Z" stroke="#000" stroke-width="0.12" vector-effect="non-scaling-stroke"/>
<text x="204.3" y="208" font-size="10.5" textLength="18.28" lengthAdjust="spacingAndGlyphs">200</text>
<text x="291.72" y="208" font-size="10.5" textLength="25.17" lengthAdjust="spacingAndGlyphs"> 000</text><path transform="matrix(0.005526 0 0 -0.005127 291.72 208)" d="M745 0H560V1060C480 990 330 920 223 890V1050C390 1100 520 1230 585 1409H745Z" stroke="#000" stroke-width="0.12" vector-effect="non-scaling-stroke"/>
<text x="279.23" y="227" font-size="12.5" textLength="7.88" lengthAdjust="spacingAndGlyphs">E</text>
<text x="287.28" y="230" font-size="8" textLength="4.75" lengthAdjust="spacingAndGlyphs">T</text>
<text x="296.47" y="227" font-size="12.3" textLength="31.67" lengthAdjust="spacingAndGlyphs">[GeV]</text>
<g transform="translate(11.05 51) rotate(-90)"><text x="0.28" y="0.5" font-size="12.5" textLength="4.88" lengthAdjust="spacingAndGlyphs" font-style="italic">ε</text><text x="6.12" y="4.7" font-size="9" textLength="7.91" lengthAdjust="spacingAndGlyphs">ID</text><text x="18.48" y="0" font-size="11.6" textLength="31.63" lengthAdjust="spacingAndGlyphs">(tight)</text></g>
<text x="60.23" y="25" font-size="11" textLength="36.79" lengthAdjust="spacingAndGlyphs" font-weight="bold" font-style="italic">ATLAS</text>
<path d="M187.9 20.3l1.2-.7 1.9 5.1 2.1-8.8h5.3" stroke="#000" stroke-width="0.75" fill="none"/>
<text x="193.24" y="25" font-size="10.9" textLength="120.58" lengthAdjust="spacingAndGlyphs">s =  3 TeV, 36. -36.7 fb</text><path transform="matrix(0.005474 0 0 -0.005322 211.62 25)" d="M745 0H560V1060C480 990 330 920 223 890V1050C390 1100 520 1230 585 1409H745Z" stroke="#000" stroke-width="0.12" vector-effect="non-scaling-stroke"/><path transform="matrix(0.005474 0 0 -0.005322 269.57 25)" d="M745 0H560V1060C480 990 330 920 223 890V1050C390 1100 520 1230 585 1409H745Z" stroke="#000" stroke-width="0.12" vector-effect="non-scaling-stroke"/>
<text x="313.94" y="19" font-size="6" textLength="6.27" lengthAdjust="spacingAndGlyphs">- </text><path transform="matrix(0.003443 0 0 -0.002930 316.28 19)" d="M745 0H560V1060C480 990 330 920 223 890V1050C390 1100 520 1230 585 1409H745Z" stroke="#000" stroke-width="0.12" vector-effect="non-scaling-stroke"/>
<text x="204.13" y="96" font-size="10.6" textLength="80.18" lengthAdjust="spacingAndGlyphs"> .52 ≤ lηl &lt;  .8 </text><path transform="matrix(0.005486 0 0 -0.005176 204.13 96)" d="M745 0H560V1060C480 990 330 920 223 890V1050C390 1100 520 1230 585 1409H745Z" stroke="#000" stroke-width="0.12" vector-effect="non-scaling-stroke"/><path transform="matrix(0.005486 0 0 -0.005176 262.45 96)" d="M745 0H560V1060C480 990 330 920 223 890V1050C390 1100 520 1230 585 1409H745Z" stroke="#000" stroke-width="0.12" vector-effect="non-scaling-stroke"/><path transform="matrix(0.005486 0 0 -0.005176 278.06 96)" d="M745 0H560V1060C480 990 330 920 223 890V1050C390 1100 520 1230 585 1409H745Z" stroke="#000" stroke-width="0.12" vector-effect="non-scaling-stroke"/>
<text x="203.72" y="116" font-size="10.2" textLength="70.16" lengthAdjust="spacingAndGlyphs">unconverted γ</text>
<path d="M187.7 133.3H203" stroke="#ff0000" stroke-width="1"/>
<path d="M187.7 154.8H203" stroke="#000000" stroke-width="1"/>
<path d="M187.7 176.4H203" stroke="#0000ff" stroke-width="1"/>
<path d="M195.4 130.8l2.7 4.5h-5.4z" fill="#ff0000"/>
<rect x="193.2" y="152.6" width="4.6" height="4.5" fill="#000"/>
<circle cx="195.4" cy="176.4" r="2.45" fill="#0000ff"/>
<text x="206.41" y="136" font-size="10.8" textLength="6.47" lengthAdjust="spacingAndGlyphs">Z</text>
<path d="M217.4 133.6H226.8M224.2 131.5l2.7 2.1-2.7 2.1" stroke="#000" stroke-width="0.8" fill="none"/>
<text x="230.96" y="136" font-size="10.8" textLength="9.73" lengthAdjust="spacingAndGlyphs">llγ</text>
<text x="206.33" y="158" font-size="10.6" textLength="110.15" lengthAdjust="spacingAndGlyphs">Electron Extrapolation</text>
<text x="206.01" y="181" font-size="10.8" textLength="87.15" lengthAdjust="spacingAndGlyphs">Inclusive photons</text>
<text x="170.53" y="242" font-size="13" textLength="15.75" lengthAdjust="spacingAndGlyphs" font-weight="bold" font-family='"Liberation Serif", serif'>(c)</text>
</g>
<g transform="translate(357 274)">
<rect x="47.3" y="122.5" width="22.2" height="8" fill="#ff0000" fill-opacity="0.48"/>
<rect x="69.5" y="95" width="15.4" height="9.5" fill="#ff0000" fill-opacity="0.48"/>
<rect x="84.9" y="79.7" width="12.7" height="9.5" fill="#ff0000" fill-opacity="0.48"/>
<rect x="97.6" y="71.9" width="9.5" height="6.6" fill="#ff0000" fill-opacity="0.48"/>
<rect x="107.1" y="61.8" width="8.7" height="8" fill="#ff0000" fill-opacity="0.48"/>
<rect x="115.8" y="63.3" width="6.8" height="9.4" fill="#ff0000" fill-opacity="0.48"/>
<rect x="122.6" y="56.1" width="6.6" height="6.8" fill="#ff0000" fill-opacity="0.48"/>
<rect x="129.2" y="42.8" width="6.6" height="9.9" fill="#ff0000" fill-opacity="0.48"/>
<rect x="136" y="49.7" width="8.6" height="11.5" fill="#ff0000" fill-opacity="0.48"/>
<rect x="145.5" y="56" width="16.5" height="16.7" fill="#ff0000" fill-opacity="0.48"/>
<rect x="162" y="56" width="12.4" height="43.6" fill="#ff0000" fill-opacity="0.48"/>
<rect x="96.13" y="70" width="10.25" height="6.5" fill="#0000ff" fill-opacity="0.34"/>
<rect x="106.39" y="63.5" width="8.67" height="6" fill="#0000ff" fill-opacity="0.34"/>
<rect x="115.06" y="59.5" width="7.51" height="5.5" fill="#0000ff" fill-opacity="0.34"/>
<rect x="122.57" y="57.5" width="6.62" height="5" fill="#0000ff" fill-opacity="0.34"/>
<rect x="129.19" y="55" width="5.93" height="4" fill="#0000ff" fill-opacity="0.34"/>
<rect x="135.12" y="53.5" width="10.25" height="3" fill="#0000ff" fill-opacity="0.34"/>
<rect x="145.37" y="52.3" width="16.18" height="2.4" fill="#0000ff" fill-opacity="0.34"/>
<rect x="161.55" y="52.3" width="12.55" height="2.4" fill="#0000ff" fill-opacity="0.34"/>
<rect x="174.1" y="50.8" width="12.55" height="1.6" fill="#0000ff" fill-opacity="0.34"/>
<rect x="186.65" y="51.4" width="10.25" height="1.6" fill="#0000ff" fill-opacity="0.34"/>
<rect x="196.9" y="52.1" width="8.67" height="1.6" fill="#0000ff" fill-opacity="0.34"/>
<rect x="205.57" y="52.9" width="20.06" height="1.6" fill="#0000ff" fill-opacity="0.34"/>
<rect x="225.63" y="55.7" width="100.77" height="1.6" fill="#0000ff" fill-opacity="0.34"/>
<path d="M47.3 126.3H69.5M58.9 109.9V142.5M57.7 109.9h2.4M57.7 142.5h2.4M69.5 99.8H84.9M77.3 91.1V108.4M76.1 91.1h2.4M76.1 108.4h2.4M84.9 84.4H97.6M90.6 75.2V93.4M89.4 75.2h2.4M89.4 93.4h2.4M97.6 75.2H107.1M102.8 71V79.5M101.6 71h2.4M101.6 79.5h2.4M107.1 65.1H115.8M111.4 61V69.5M110.2 61h2.4M110.2 69.5h2.4M115.8 68H122.6M119.5 63V73M118.3 63h2.4M118.3 73h2.4M122.6 59.3H129.2M125.9 55V64M124.7 55h2.4M124.7 64h2.4M129.2 46H135.8M132.2 43.4V52.3M131 43.4h2.4M131 52.3h2.4M136 53.5H144.6M140.3 49.5V60.8M139.1 49.5h2.4M139.1 60.8h2.4M145.5 60.8H162M154.2 55V73M153 55h2.4M153 73h2.4M162 71.5H174.4M168.6 59.3V99.8M167.4 59.3h2.4M167.4 99.8h2.4" stroke="#ff0000" stroke-width="1" fill="none"/>
<path d="M58.9 123.8l2.5 4.2h-5z" fill="#ff0000"/>
<path d="M77.3 97.3l2.5 4.2h-5z" fill="#ff0000"/>
<path d="M90.6 81.9l2.5 4.2h-5z" fill="#ff0000"/>
<path d="M102.8 72.7l2.5 4.2h-5z" fill="#ff0000"/>
<path d="M111.4 62.6l2.5 4.2h-5z" fill="#ff0000"/>
<path d="M119.5 65.5l2.5 4.2h-5z" fill="#ff0000"/>
<path d="M125.9 56.8l2.5 4.2h-5z" fill="#ff0000"/>
<path d="M132.2 43.5l2.5 4.2h-5z" fill="#ff0000"/>
<path d="M140.3 51l2.5 4.2h-5z" fill="#ff0000"/>
<path d="M154.2 58.3l2.5 4.2h-5z" fill="#ff0000"/>
<path d="M168.6 69l2.5 4.2h-5z" fill="#ff0000"/>
<path d="M96.13 73.2H106.39M99.9 38.5V107M98.7 38.5h2.4M98.7 107h2.4M96.13 72v2.4M106.39 66.5H115.06M110 47.2V83.9M108.8 47.2h2.4M108.8 83.9h2.4M106.39 65.3v2.4M115.06 62.2H122.57M118.1 44.9V76.6M116.9 44.9h2.4M116.9 76.6h2.4M115.06 61v2.4M122.57 60H129.19M125.3 49.2V72.3M124.1 49.2h2.4M124.1 72.3h2.4M122.57 58.8v2.4M129.19 57H135.12M131.6 50.7V63.7M130.4 50.7h2.4M130.4 63.7h2.4M129.19 55.8v2.4M135.12 55H145.37M140.3 51V59M139.1 51h2.4M139.1 59h2.4M135.12 53.8v2.4M145.37 53.5H161.55M154.2 51.5V55.5M153 51.5h2.4M153 55.5h2.4M145.37 52.3v2.4M161.55 53.5H174.1M168.6 51.5V55.5M167.4 51.5h2.4M167.4 55.5h2.4M161.55 52.3v2.4M174.1 51.6H186.65M181.1 50.2V53M179.9 50.2h2.4M179.9 53h2.4M174.1 50.4v2.4M186.65 52.2H196.9M191.9 50.8V53.6M190.7 50.8h2.4M190.7 53.6h2.4M186.65 51v2.4M196.9 52.9H205.57M201 51.5V54.3M199.8 51.5h2.4M199.8 54.3h2.4M196.9 51.7v2.4M205.57 53.7H225.63M216.3 52.3V55.1M215.1 52.3h2.4M215.1 55.1h2.4M205.57 52.5v2.4M225.63 56.5H326.4M296 55.5V57.5M294.8 55.5h2.4M294.8 57.5h2.4M225.63 55.3v2.4" stroke="#0000ff" stroke-width="1" fill="none"/>
<path d="M96.13 70.9H106.39M101.3 60.8V82.4M100.1 60.8h2.4M100.1 82.4h2.4M106.39 65.7H115.06M110.8 53.5V78.1M109.6 53.5h2.4M109.6 78.1h2.4M115.06 62.2H122.57M118.6 52.1V75.2M117.4 52.1h2.4M117.4 75.2h2.4M122.57 60.8H129.19M125.9 50.7V70.9M124.7 50.7h2.4M124.7 70.9h2.4M129.19 57.9H135.12M132.2 50.7V62.2M131 50.7h2.4M131 62.2h2.4M135.12 56.4H145.37M140.3 46.3V63.7M139.1 46.3h2.4M139.1 63.7h2.4M145.37 56.4H161.55M154.2 45V69.4M153 45h2.4M153 69.4h2.4M161.55 56.4H174.1M168.6 50.7V63.7M167.4 50.7h2.4M167.4 63.7h2.4M174.1 55.9H186.65M180.2 50.7V62.2M179 50.7h2.4M179 62.2h2.4M186.65 57H196.9M192.3 53.5V62.2M191.1 53.5h2.4M191.1 62.2h2.4" stroke="#000000" stroke-width="1" fill="none"/>
<circle cx="99.9" cy="73.2" r="2.45" fill="#0000ff"/>
<circle cx="110" cy="66.5" r="2.45" fill="#0000ff"/>
<circle cx="118.1" cy="62.2" r="2.45" fill="#0000ff"/>
<circle cx="125.3" cy="60" r="2.45" fill="#0000ff"/>
<circle cx="131.6" cy="57" r="2.45" fill="#0000ff"/>
<circle cx="140.3" cy="55" r="2.45" fill="#0000ff"/>
<circle cx="154.2" cy="53.5" r="2.45" fill="#0000ff"/>
<circle cx="168.6" cy="53.5" r="2.45" fill="#0000ff"/>
<circle cx="181.1" cy="51.6" r="2.45" fill="#0000ff"/>
<circle cx="191.9" cy="52.2" r="2.45" fill="#0000ff"/>
<circle cx="201" cy="52.9" r="2.45" fill="#0000ff"/>
<circle cx="216.3" cy="53.7" r="2.45" fill="#0000ff"/>
<circle cx="296" cy="56.5" r="2.45" fill="#0000ff"/>
<rect x="99" y="68.6" width="4.6" height="4.6" fill="#000000"/>
<rect x="108.5" y="63.4" width="4.6" height="4.6" fill="#000000"/>
<rect x="116.3" y="59.9" width="4.6" height="4.6" fill="#000000"/>
<rect x="123.6" y="58.5" width="4.6" height="4.6" fill="#000000"/>
<rect x="129.9" y="55.6" width="4.6" height="4.6" fill="#000000"/>
<rect x="138" y="54.1" width="4.6" height="4.6" fill="#000000"/>
<rect x="151.9" y="54.1" width="4.6" height="4.6" fill="#000000"/>
<rect x="166.3" y="54.1" width="4.6" height="4.6" fill="#000000"/>
<rect x="177.9" y="53.6" width="4.6" height="4.6" fill="#000000"/>
<rect x="190" y="54.7" width="4.6" height="4.6" fill="#000000"/>
<path d="M44.65 5V197.3" stroke="#999" stroke-width="1.5" fill="none"/>
<path d="M44 5.6H326.9" stroke="#888" stroke-width="1.3" fill="none"/>
<path d="M44 196.55H326.9" stroke="#9c9c9c" stroke-width="1.7" fill="none"/>
<path d="M326.4 5V197.3" stroke="#555" stroke-width="1.1" fill="none"/>
<path d="M44.6 194.4h4.3M326.4 194.4h-4.3M44.6 189.3h4.3M326.4 189.3h-4.3M44.6 184.2h8.2M326.4 184.2h-8.2M44.6 179.1h4.3M326.4 179.1h-4.3M44.6 174h4.3M326.4 174h-4.3M44.6 168.89h4.3M326.4 168.89h-4.3M44.6 163.79h4.3M326.4 163.79h-4.3M44.6 158.69h8.2M326.4 158.69h-8.2M44.6 153.59h4.3M326.4 153.59h-4.3M44.6 148.49h4.3M326.4 148.49h-4.3M44.6 143.38h4.3M326.4 143.38h-4.3M44.6 138.28h4.3M326.4 138.28h-4.3M44.6 133.18h8.2M326.4 133.18h-8.2M44.6 128.08h4.3M326.4 128.08h-4.3M44.6 122.98h4.3M326.4 122.98h-4.3M44.6 117.87h4.3M326.4 117.87h-4.3M44.6 112.77h4.3M326.4 112.77h-4.3M44.6 107.67h8.2M326.4 107.67h-8.2M44.6 102.57h4.3M326.4 102.57h-4.3M44.6 97.47h4.3M326.4 97.47h-4.3M44.6 92.36h4.3M326.4 92.36h-4.3M44.6 87.26h4.3M326.4 87.26h-4.3M44.6 82.16h8.2M326.4 82.16h-8.2M44.6 77.06h4.3M326.4 77.06h-4.3M44.6 71.96h4.3M326.4 71.96h-4.3M44.6 66.85h4.3M326.4 66.85h-4.3M44.6 61.75h4.3M326.4 61.75h-4.3M44.6 56.65h8.2M326.4 56.65h-8.2M44.6 51.55h4.3M326.4 51.55h-4.3M44.6 46.45h4.3M326.4 46.45h-4.3M44.6 41.34h4.3M326.4 41.34h-4.3M44.6 36.24h4.3M326.4 36.24h-4.3M44.6 31.14h8.2M326.4 31.14h-8.2M44.6 26.04h4.3M326.4 26.04h-4.3M44.6 20.94h4.3M326.4 20.94h-4.3M44.6 15.83h4.3M326.4 15.83h-4.3M44.6 10.73h4.3M326.4 10.73h-4.3M83.58 196.5v-2.6M83.58 5.6v2.6M106.39 196.5v-2.6M106.39 5.6v2.6M122.57 196.5v-2.6M122.57 5.6v2.6M135.12 196.5v-2.6M135.12 5.6v2.6M145.37 196.5v-2.6M145.37 5.6v2.6M154.04 196.5v-2.6M154.04 5.6v2.6M161.55 196.5v-2.6M161.55 5.6v2.6M168.17 196.5v-2.6M168.17 5.6v2.6M174.1 196.5v-5.4M174.1 5.6v5.4M213.08 196.5v-2.6M213.08 5.6v2.6M235.89 196.5v-2.6M235.89 5.6v2.6M252.07 196.5v-2.6M252.07 5.6v2.6M264.62 196.5v-2.6M264.62 5.6v2.6M274.87 196.5v-2.6M274.87 5.6v2.6M283.54 196.5v-2.6M283.54 5.6v2.6M291.05 196.5v-2.6M291.05 5.6v2.6M297.67 196.5v-2.6M297.67 5.6v2.6M303.6 196.5v-5.4M303.6 5.6v5.4" stroke="#505050" stroke-width="1" fill="none"/>
<text x="26.03" y="188" font-size="10.8" textLength="14.99" lengthAdjust="spacingAndGlyphs">0.4</text>
<text x="26.02" y="163" font-size="10.8" textLength="15.13" lengthAdjust="spacingAndGlyphs">0.5</text>
<text x="26.02" y="137" font-size="10.8" textLength="15.15" lengthAdjust="spacingAndGlyphs">0.6</text>
<text x="26.02" y="112" font-size="10.8" textLength="15.23" lengthAdjust="spacingAndGlyphs">0.7</text>
<text x="26.02" y="87" font-size="10.8" textLength="15.15" lengthAdjust="spacingAndGlyphs">0.8</text>
<text x="26.02" y="61" font-size="10.8" textLength="15.19" lengthAdjust="spacingAndGlyphs">0.9</text>
<text x="35.2" y="36" font-size="10.8" textLength="6.66" lengthAdjust="spacingAndGlyphs"> </text><path transform="matrix(0.005843 0 0 -0.005273 35.2 36)" d="M745 0H560V1060C480 990 330 920 223 890V1050C390 1100 520 1230 585 1409H745Z" stroke="#000" stroke-width="0.12" vector-effect="non-scaling-stroke"/>
<text x="26.13" y="11" font-size="10.8" textLength="15.58" lengthAdjust="spacingAndGlyphs"> . </text><path transform="matrix(0.005471 0 0 -0.005273 26.13 11)" d="M745 0H560V1060C480 990 330 920 223 890V1050C390 1100 520 1230 585 1409H745Z" stroke="#000" stroke-width="0.12" vector-effect="non-scaling-stroke"/><path transform="matrix(0.005471 0 0 -0.005273 35.47 11)" d="M745 0H560V1060C480 990 330 920 223 890V1050C390 1100 520 1230 585 1409H745Z" stroke="#000" stroke-width="0.12" vector-effect="non-scaling-stroke"/>
<text x="77.58" y="208" font-size="10.5" textLength="12.61" lengthAdjust="spacingAndGlyphs">20</text>
<text x="100.23" y="208" font-size="10.5" textLength="12.36" lengthAdjust="spacingAndGlyphs">30</text>
<text x="117" y="208" font-size="10.5" textLength="12.07" lengthAdjust="spacingAndGlyphs">40</text>
<text x="165.2" y="208" font-size="10.5" textLength="19.2" lengthAdjust="spacingAndGlyphs"> 00</text><path transform="matrix(0.005620 0 0 -0.005127 165.2 208)" d="M745 0H560V1060C480 990 330 920 223 890V1050C390 1100 520 1230 585 1409H745Z" stroke="#000" stroke-width="0.12" vector-effect="non-scaling-stroke"/>
<text x="204.3" y="208" font-size="10.5" textLength="18.28" lengthAdjust="spacingAndGlyphs">200</text>
<text x="291.72" y="208" font-size="10.5" textLength="25.17" lengthAdjust="spacingAndGlyphs"> 000</text><path transform="matrix(0.005526 0 0 -0.005127 291.72 208)" d="M745 0H560V1060C480 990 330 920 223 890V1050C390 1100 520 1230 585 1409H745Z" stroke="#000" stroke-width="0.12" vector-effect="non-scaling-stroke"/>
<text x="279.23" y="227" font-size="12.5" textLength="7.88" lengthAdjust="spacingAndGlyphs">E</text>
<text x="287.28" y="230" font-size="8" textLength="4.75" lengthAdjust="spacingAndGlyphs">T</text>
<text x="296.47" y="227" font-size="12.3" textLength="31.67" lengthAdjust="spacingAndGlyphs">[GeV]</text>
<g transform="translate(11.05 51) rotate(-90)"><text x="0.28" y="0.5" font-size="12.5" textLength="4.88" lengthAdjust="spacingAndGlyphs" font-style="italic">ε</text><text x="6.12" y="4.7" font-size="9" textLength="7.91" lengthAdjust="spacingAndGlyphs">ID</text><text x="18.48" y="0" font-size="11.6" textLength="31.63" lengthAdjust="spacingAndGlyphs">(tight)</text></g>
<text x="60.23" y="25" font-size="11" textLength="36.79" lengthAdjust="spacingAndGlyphs" font-weight="bold" font-style="italic">ATLAS</text>
<path d="M187.9 20.3l1.2-.7 1.9 5.1 2.1-8.8h5.3" stroke="#000" stroke-width="0.75" fill="none"/>
<text x="193.24" y="25" font-size="10.9" textLength="120.58" lengthAdjust="spacingAndGlyphs">s =  3 TeV, 36. -36.7 fb</text><path transform="matrix(0.005474 0 0 -0.005322 211.62 25)" d="M745 0H560V1060C480 990 330 920 223 890V1050C390 1100 520 1230 585 1409H745Z" stroke="#000" stroke-width="0.12" vector-effect="non-scaling-stroke"/><path transform="matrix(0.005474 0 0 -0.005322 269.57 25)" d="M745 0H560V1060C480 990 330 920 223 890V1050C390 1100 520 1230 585 1409H745Z" stroke="#000" stroke-width="0.12" vector-effect="non-scaling-stroke"/>
<text x="313.94" y="19" font-size="6" textLength="6.27" lengthAdjust="spacingAndGlyphs">- </text><path transform="matrix(0.003443 0 0 -0.002930 316.28 19)" d="M745 0H560V1060C480 990 330 920 223 890V1050C390 1100 520 1230 585 1409H745Z" stroke="#000" stroke-width="0.12" vector-effect="non-scaling-stroke"/>
<text x="203.71" y="96" font-size="10.6" textLength="78.32" lengthAdjust="spacingAndGlyphs"> .8 ≤ lηl &lt; 2.37</text><path transform="matrix(0.005575 0 0 -0.005176 203.71 96)" d="M745 0H560V1060C480 990 330 920 223 890V1050C390 1100 520 1230 585 1409H745Z" stroke="#000" stroke-width="0.12" vector-effect="non-scaling-stroke"/><path transform="matrix(0.005575 0 0 -0.005176 219.58 96)" d="M745 0H560V1060C480 990 330 920 223 890V1050C390 1100 520 1230 585 1409H745Z" stroke="#000" stroke-width="0.12" vector-effect="non-scaling-stroke"/>
<text x="203.72" y="116" font-size="10.2" textLength="70.16" lengthAdjust="spacingAndGlyphs">unconverted γ</text>
<path d="M187.7 133.3H203" stroke="#ff0000" stroke-width="1"/>
<path d="M187.7 154.8H203" stroke="#000000" stroke-width="1"/>
<path d="M187.7 176.4H203" stroke="#0000ff" stroke-width="1"/>
<path d="M195.4 130.8l2.7 4.5h-5.4z" fill="#ff0000"/>
<rect x="193.2" y="152.6" width="4.6" height="4.5" fill="#000"/>
<circle cx="195.4" cy="176.4" r="2.45" fill="#0000ff"/>
<text x="206.41" y="136" font-size="10.8" textLength="6.47" lengthAdjust="spacingAndGlyphs">Z</text>
<path d="M217.4 133.6H226.8M224.2 131.5l2.7 2.1-2.7 2.1" stroke="#000" stroke-width="0.8" fill="none"/>
<text x="230.96" y="136" font-size="10.8" textLength="9.73" lengthAdjust="spacingAndGlyphs">llγ</text>
<text x="206.33" y="158" font-size="10.6" textLength="110.15" lengthAdjust="spacingAndGlyphs">Electron Extrapolation</text>
<text x="206.01" y="181" font-size="10.8" textLength="87.15" lengthAdjust="spacingAndGlyphs">Inclusive photons</text>
<text x="174.65" y="242" font-size="13" textLength="16.59" lengthAdjust="spacingAndGlyphs" font-weight="bold" font-family='"Liberation Serif", serif'>(d)</text>
</g>
</svg></body></html>
